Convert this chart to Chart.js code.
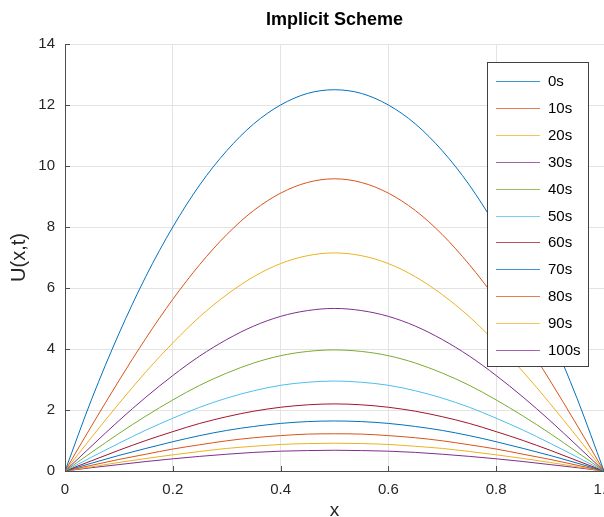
<!DOCTYPE html>
<html><head><meta charset="utf-8">
<script src="https://cdn.jsdelivr.net/npm/chart.js@4/dist/chart.umd.min.js"></script>
<style>html,body{margin:0;padding:0;background:#fff;overflow:hidden}canvas{display:block}</style>
</head><body>
<canvas id="c" width="604" height="517"></canvas>
<script>
const xValues = [0,0.05,0.1,0.15,0.2,0.25,0.3,0.35,0.4,0.45,0.5,0.55,0.6,0.65,0.7,0.75,0.8,0.85,0.9,0.95,1];
const timeLabels = ['0s','10s','20s','30s','40s','50s','60s','70s','80s','90s','100s'];
const u0s   = [0,2.38,4.5,6.38,8,9.38,10.5,11.38,12,12.38,12.5,12.38,12,11.38,10.5,9.38,8,6.38,4.5,2.38,0];
const u10s  = [0,1.5,2.96,4.35,5.63,6.77,7.75,8.54,9.11,9.46,9.58,9.46,9.11,8.54,7.75,6.77,5.63,4.35,2.96,1.5,0];
const u20s  = [0,1.12,2.21,3.25,4.2,5.06,5.78,6.37,6.8,7.06,7.15,7.06,6.8,6.37,5.78,5.06,4.2,3.25,2.21,1.12,0];
const u30s  = [0,0.83,1.65,2.42,3.13,3.77,4.31,4.75,5.07,5.26,5.33,5.26,5.07,4.75,4.31,3.77,3.13,2.42,1.65,0.83,0];
const u40s  = [0,0.62,1.23,1.8,2.33,2.81,3.21,3.54,3.78,3.92,3.97,3.92,3.78,3.54,3.21,2.81,2.33,1.8,1.23,0.62,0];
const u50s  = [0,0.46,0.91,1.34,1.73,2.09,2.39,2.63,2.81,2.91,2.95,2.91,2.81,2.63,2.39,2.09,1.73,1.34,0.91,0.46,0];
const u60s  = [0,0.34,0.68,1,1.29,1.56,1.78,1.96,2.09,2.17,2.2,2.17,2.09,1.96,1.78,1.56,1.29,1,0.68,0.34,0];
const u70s  = [0,0.26,0.51,0.74,0.96,1.16,1.33,1.46,1.56,1.62,1.64,1.62,1.56,1.46,1.33,1.16,0.96,0.74,0.51,0.26,0];
const u80s  = [0,0.19,0.38,0.55,0.72,0.86,0.99,1.09,1.16,1.21,1.22,1.21,1.16,1.09,0.99,0.86,0.72,0.55,0.38,0.19,0];
const u90s  = [0,0.14,0.28,0.41,0.53,0.64,0.74,0.81,0.87,0.9,0.91,0.9,0.87,0.81,0.74,0.64,0.53,0.41,0.28,0.14,0];
const u100s = [0,0.11,0.21,0.31,0.4,0.48,0.55,0.61,0.65,0.67,0.68,0.67,0.65,0.61,0.55,0.48,0.4,0.31,0.21,0.11,0];
const seriesValues = [u0s,u10s,u20s,u30s,u40s,u50s,u60s,u70s,u80s,u90s,u100s];
const lineColors = ['#0072BD','#D95319','#EDB120','#7E2F8E','#77AC30','#4DBEEE','#A2142F','#0072BD','#D95319','#EDB120','#7E2F8E'];
const xTicks = [0,0.2,0.4,0.6,0.8,1];
const yTicks = [0,2,4,6,8,10,12,14];

const FONT = "'Liberation Sans', Arial, Helvetica, sans-serif";
Chart.defaults.font.family = FONT;
Chart.defaults.color = '#262626';

const inwardTicks = {
  id: 'inwardTicks',
  afterDatasetsDraw(chart) {
    const ctx = chart.ctx, a = chart.chartArea;
    const xs = chart.scales.x, ys = chart.scales.y;
    ctx.save();
    ctx.strokeStyle = '#4d4d4d';
    ctx.lineWidth = 1;
    ctx.beginPath();
    xTicks.forEach(v => {
      const px = Math.round(xs.getPixelForValue(v)) + 0.5;
      ctx.moveTo(px, a.bottom); ctx.lineTo(px, a.bottom - 5);
    });
    yTicks.forEach(v => {
      const py = Math.round(ys.getPixelForValue(v)) + 0.5;
      ctx.moveTo(a.left, py); ctx.lineTo(a.left + 5, py);
    });
    ctx.stroke();
    ctx.restore();
  }
};

const boxLegend = {
  id: 'boxLegend',
  afterDraw(chart) {
    const ctx = chart.ctx, a = chart.chartArea;
    const w = 101, h = 304;
    const left = Math.round(a.right - 117), top = Math.round(a.top + 18);
    ctx.save();
    ctx.fillStyle = '#fff';
    ctx.fillRect(left, top, w, h);
    ctx.strokeStyle = '#404040';
    ctx.lineWidth = 1;
    ctx.strokeRect(left + 0.5, top + 0.5, w, h);
    ctx.font = '15px ' + FONT;
    ctx.textBaseline = 'middle';
    ctx.textAlign = 'left';
    chart.data.datasets.forEach((ds, i) => {
      const y = Math.round(top + 19 + i * 26.9) + 0.5;
      ctx.strokeStyle = ds.borderColor;
      ctx.globalAlpha = 0.75;
      ctx.beginPath();
      ctx.moveTo(left + 9, y); ctx.lineTo(left + 53, y);
      ctx.stroke();
      ctx.globalAlpha = 1;
      ctx.fillStyle = '#000';
      ctx.fillText(ds.label, left + 61, y + 0.5);
    });
    ctx.restore();
  }
};

new Chart(document.getElementById('c'), {
  type: 'line',
  data: {
    datasets: seriesValues.map((vals, i) => ({
      label: timeLabels[i],
      data: xValues.map((x, j) => ({x: x, y: vals[j]})),
      borderColor: lineColors[i],
      backgroundColor: lineColors[i],
      borderWidth: 1,
      pointRadius: 0,
      fill: false,
      cubicInterpolationMode: 'monotone'
    }))
  },
  options: {
    responsive: false,
    animation: false,
    devicePixelRatio: 1,
    layout: {padding: 0},
    plugins: {
      legend: {display: false},
      tooltip: {enabled: false},
      title: {
        display: true,
        text: 'Implicit Scheme',
        fullSize: false,
        color: '#000',
        font: {size: 18, weight: 'bold', lineHeight: 1.2},
        padding: {top: 9, bottom: 13.4}
      }
    },
    scales: {
      x: {
        type: 'linear', min: 0, max: 1,
        afterBuildTicks: s => { s.ticks = xTicks.map(v => ({value: v})); },
        afterFit: s => { s.height = 46; s.paddingRight = 0; s.paddingLeft = 0; },
        ticks: {padding: 10, maxRotation: 0, font: {size: 15}, color: '#262626'},
        grid: {color: '#e3e3e3', drawTicks: false},
        border: {color: '#4d4d4d', width: 1},
        title: {display: true, text: 'x', color: '#262626', font: {size: 19, lineHeight: 0.7}, padding: 0}
      },
      y: {
        type: 'linear', min: 0, max: 14,
        afterBuildTicks: s => { s.ticks = yTicks.map(v => ({value: v})); },
        afterFit: s => { s.width = 65; },
        ticks: {padding: 10, font: {size: 15}, color: '#262626'},
        grid: {color: '#e3e3e3', drawTicks: false},
        border: {color: '#4d4d4d', width: 1},
        title: {display: true, text: 'U(x,t)', color: '#262626', font: {size: 20, lineHeight: 1.2}, padding: {top: 7, bottom: 0}}
      }
    }
  },
  plugins: [inwardTicks, boxLegend]
});
</script>
</body></html>
